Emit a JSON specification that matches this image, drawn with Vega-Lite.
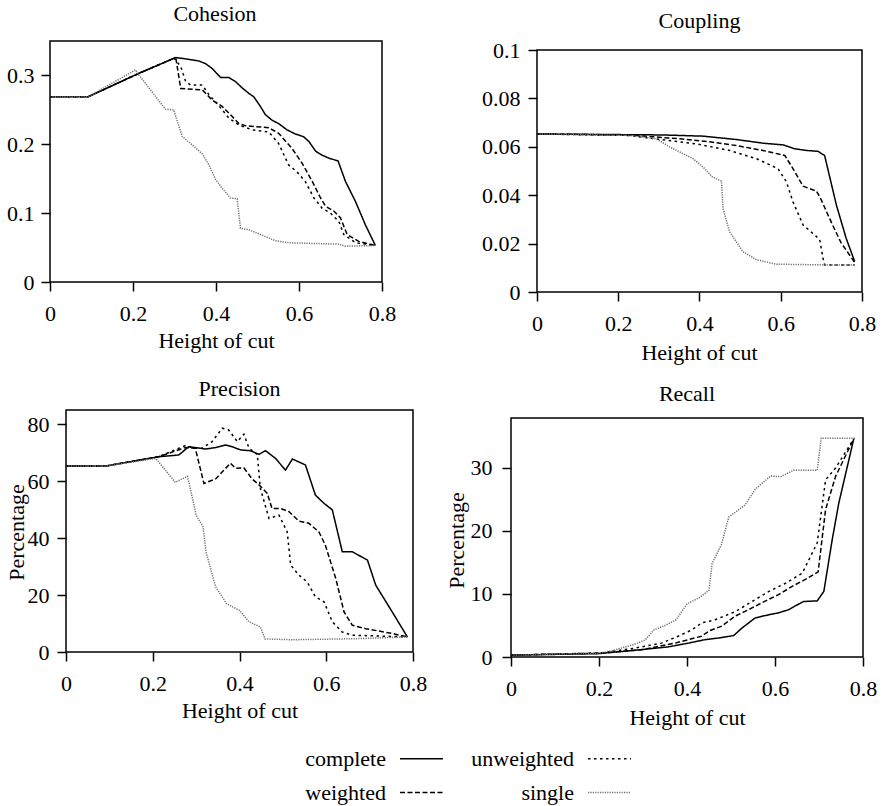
{
  "$schema": "https://vega.github.io/schema/vega-lite/v6.json",
  "padding": {"left": 5, "top": 3, "right": 5, "bottom": 2},
  "background": "white",
  "config": {
    "font": "Liberation Serif",
    "view": {"stroke": null},
    "title": {"font": "Liberation Serif", "fontSize": 22, "fontWeight": "normal", "color": "#000", "baseline": "alphabetic", "frame": "group"},
    "axis": {"labelFont": "Liberation Serif", "labelFontSize": 22, "labelColor": "#000", "titleFont": "Liberation Serif", "titleFontSize": 22, "titleFontWeight": "normal", "titleColor": "#000", "domain": false, "grid": false, "tickColor": "#000", "tickWidth": 1.5, "tickSize": 9, "labelFlush": false, "labelOverlap": false, "labelBound": false, "titleBaseline": "alphabetic"}
  },
  "datasets": {
    "cohesion": [
      {"m":"complete","h":0,"v":0.269},{"m":"complete","h":0.092,"v":0.269},{"m":"complete","h":0.214,"v":0.303},{"m":"complete","h":0.303,"v":0.326},{"m":"complete","h":0.327,"v":0.324},{"m":"complete","h":0.359,"v":0.321},{"m":"complete","h":0.375,"v":0.317},{"m":"complete","h":0.391,"v":0.31},{"m":"complete","h":0.411,"v":0.297},{"m":"complete","h":0.431,"v":0.297},{"m":"complete","h":0.447,"v":0.291},{"m":"complete","h":0.463,"v":0.282},{"m":"complete","h":0.479,"v":0.274},{"m":"complete","h":0.491,"v":0.269},{"m":"complete","h":0.507,"v":0.255},{"m":"complete","h":0.519,"v":0.243},{"m":"complete","h":0.535,"v":0.235},{"m":"complete","h":0.551,"v":0.23},{"m":"complete","h":0.571,"v":0.221},{"m":"complete","h":0.591,"v":0.215},{"m":"complete","h":0.611,"v":0.211},{"m":"complete","h":0.624,"v":0.204},{"m":"complete","h":0.64,"v":0.19},{"m":"complete","h":0.656,"v":0.184},{"m":"complete","h":0.676,"v":0.179},{"m":"complete","h":0.694,"v":0.176},{"m":"complete","h":0.712,"v":0.146},{"m":"complete","h":0.736,"v":0.117},{"m":"complete","h":0.76,"v":0.083},{"m":"complete","h":0.784,"v":0.053},
      {"m":"weighted","h":0,"v":0.269},{"m":"weighted","h":0.092,"v":0.269},{"m":"weighted","h":0.214,"v":0.303},{"m":"weighted","h":0.303,"v":0.326},{"m":"weighted","h":0.315,"v":0.281},{"m":"weighted","h":0.367,"v":0.279},{"m":"weighted","h":0.391,"v":0.264},{"m":"weighted","h":0.415,"v":0.255},{"m":"weighted","h":0.435,"v":0.243},{"m":"weighted","h":0.455,"v":0.23},{"m":"weighted","h":0.471,"v":0.227},{"m":"weighted","h":0.527,"v":0.224},{"m":"weighted","h":0.551,"v":0.216},{"m":"weighted","h":0.583,"v":0.194},{"m":"weighted","h":0.607,"v":0.173},{"m":"weighted","h":0.632,"v":0.146},{"m":"weighted","h":0.652,"v":0.122},{"m":"weighted","h":0.664,"v":0.11},{"m":"weighted","h":0.684,"v":0.103},{"m":"weighted","h":0.7,"v":0.093},{"m":"weighted","h":0.716,"v":0.069},{"m":"weighted","h":0.744,"v":0.059},{"m":"weighted","h":0.784,"v":0.053},
      {"m":"unweighted","h":0,"v":0.269},{"m":"unweighted","h":0.092,"v":0.269},{"m":"unweighted","h":0.214,"v":0.303},{"m":"unweighted","h":0.299,"v":0.325},{"m":"unweighted","h":0.315,"v":0.313},{"m":"unweighted","h":0.327,"v":0.291},{"m":"unweighted","h":0.339,"v":0.286},{"m":"unweighted","h":0.367,"v":0.286},{"m":"unweighted","h":0.383,"v":0.272},{"m":"unweighted","h":0.407,"v":0.256},{"m":"unweighted","h":0.431,"v":0.238},{"m":"unweighted","h":0.455,"v":0.228},{"m":"unweighted","h":0.487,"v":0.221},{"m":"unweighted","h":0.527,"v":0.218},{"m":"unweighted","h":0.551,"v":0.201},{"m":"unweighted","h":0.575,"v":0.17},{"m":"unweighted","h":0.595,"v":0.16},{"m":"unweighted","h":0.615,"v":0.146},{"m":"unweighted","h":0.636,"v":0.122},{"m":"unweighted","h":0.656,"v":0.107},{"m":"unweighted","h":0.676,"v":0.1},{"m":"unweighted","h":0.696,"v":0.088},{"m":"unweighted","h":0.708,"v":0.069},{"m":"unweighted","h":0.736,"v":0.057},{"m":"unweighted","h":0.784,"v":0.053},
      {"m":"single","h":0,"v":0.269},{"m":"single","h":0.092,"v":0.269},{"m":"single","h":0.206,"v":0.308},{"m":"single","h":0.214,"v":0.301},{"m":"single","h":0.246,"v":0.276},{"m":"single","h":0.278,"v":0.251},{"m":"single","h":0.298,"v":0.25},{"m":"single","h":0.307,"v":0.233},{"m":"single","h":0.319,"v":0.211},{"m":"single","h":0.343,"v":0.199},{"m":"single","h":0.367,"v":0.186},{"m":"single","h":0.383,"v":0.17},{"m":"single","h":0.399,"v":0.149},{"m":"single","h":0.415,"v":0.136},{"m":"single","h":0.435,"v":0.122},{"m":"single","h":0.451,"v":0.121},{"m":"single","h":0.459,"v":0.078},{"m":"single","h":0.479,"v":0.076},{"m":"single","h":0.503,"v":0.07},{"m":"single","h":0.543,"v":0.06},{"m":"single","h":0.575,"v":0.057},{"m":"single","h":0.695,"v":0.055},{"m":"single","h":0.711,"v":0.052},{"m":"single","h":0.784,"v":0.053}
    ],
    "coupling": [
      {"m":"complete","h":0,"v":0.0653},{"m":"complete","h":0.31,"v":0.0649},{"m":"complete","h":0.409,"v":0.0644},{"m":"complete","h":0.491,"v":0.063},{"m":"complete","h":0.556,"v":0.0615},{"m":"complete","h":0.606,"v":0.0608},{"m":"complete","h":0.634,"v":0.0592},{"m":"complete","h":0.663,"v":0.0585},{"m":"complete","h":0.692,"v":0.0581},{"m":"complete","h":0.708,"v":0.0564},{"m":"complete","h":0.737,"v":0.0359},{"m":"complete","h":0.761,"v":0.0222},{"m":"complete","h":0.782,"v":0.0126},
      {"m":"weighted","h":0,"v":0.0653},{"m":"weighted","h":0.228,"v":0.0649},{"m":"weighted","h":0.351,"v":0.0633},{"m":"weighted","h":0.433,"v":0.0619},{"m":"weighted","h":0.491,"v":0.0605},{"m":"weighted","h":0.556,"v":0.0585},{"m":"weighted","h":0.61,"v":0.0564},{"m":"weighted","h":0.63,"v":0.051},{"m":"weighted","h":0.655,"v":0.0437},{"m":"weighted","h":0.688,"v":0.0417},{"m":"weighted","h":0.7,"v":0.038},{"m":"weighted","h":0.72,"v":0.0304},{"m":"weighted","h":0.748,"v":0.0205},{"m":"weighted","h":0.782,"v":0.0122},
      {"m":"unweighted","h":0,"v":0.0653},{"m":"unweighted","h":0.228,"v":0.0647},{"m":"unweighted","h":0.31,"v":0.0629},{"m":"unweighted","h":0.392,"v":0.0612},{"m":"unweighted","h":0.474,"v":0.0585},{"m":"unweighted","h":0.54,"v":0.0551},{"m":"unweighted","h":0.593,"v":0.051},{"m":"unweighted","h":0.614,"v":0.0455},{"m":"unweighted","h":0.63,"v":0.0373},{"m":"unweighted","h":0.655,"v":0.0277},{"m":"unweighted","h":0.688,"v":0.0229},{"m":"unweighted","h":0.696,"v":0.0215},{"m":"unweighted","h":0.704,"v":0.014},{"m":"unweighted","h":0.708,"v":0.0112},{"m":"unweighted","h":0.782,"v":0.0112},
      {"m":"single","h":0,"v":0.0653},{"m":"single","h":0.228,"v":0.0647},{"m":"single","h":0.294,"v":0.0633},{"m":"single","h":0.327,"v":0.0599},{"m":"single","h":0.384,"v":0.0551},{"m":"single","h":0.409,"v":0.0516},{"m":"single","h":0.432,"v":0.0475},{"m":"single","h":0.454,"v":0.0458},{"m":"single","h":0.458,"v":0.0345},{"m":"single","h":0.474,"v":0.0249},{"m":"single","h":0.507,"v":0.0167},{"m":"single","h":0.54,"v":0.0133},{"m":"single","h":0.589,"v":0.0115},{"m":"single","h":0.704,"v":0.0112},{"m":"single","h":0.782,"v":0.0112}
    ],
    "precision": [
      {"m":"complete","h":0,"v":65.3},{"m":"complete","h":0.091,"v":65.3},{"m":"complete","h":0.214,"v":68.6},{"m":"complete","h":0.26,"v":69.2},{"m":"complete","h":0.283,"v":72.1},{"m":"complete","h":0.298,"v":71.8},{"m":"complete","h":0.322,"v":71.3},{"m":"complete","h":0.345,"v":71.8},{"m":"complete","h":0.368,"v":72.7},{"m":"complete","h":0.383,"v":72.1},{"m":"complete","h":0.402,"v":71},{"m":"complete","h":0.425,"v":70.7},{"m":"complete","h":0.445,"v":69.4},{"m":"complete","h":0.46,"v":70.7},{"m":"complete","h":0.483,"v":68},{"m":"complete","h":0.506,"v":63.9},{"m":"complete","h":0.522,"v":67.8},{"m":"complete","h":0.552,"v":65.7},{"m":"complete","h":0.575,"v":55.1},{"m":"complete","h":0.595,"v":52.2},{"m":"complete","h":0.614,"v":49.9},{"m":"complete","h":0.637,"v":35.2},{"m":"complete","h":0.66,"v":35.2},{"m":"complete","h":0.695,"v":32.3},{"m":"complete","h":0.714,"v":23.5},{"m":"complete","h":0.752,"v":14.1},{"m":"complete","h":0.787,"v":5.3},
      {"m":"weighted","h":0,"v":65.3},{"m":"weighted","h":0.091,"v":65.3},{"m":"weighted","h":0.214,"v":68.6},{"m":"weighted","h":0.275,"v":71.8},{"m":"weighted","h":0.298,"v":71.6},{"m":"weighted","h":0.318,"v":59.2},{"m":"weighted","h":0.345,"v":60.8},{"m":"weighted","h":0.379,"v":66.3},{"m":"weighted","h":0.391,"v":64.5},{"m":"weighted","h":0.41,"v":64.7},{"m":"weighted","h":0.429,"v":60.8},{"m":"weighted","h":0.445,"v":58.7},{"m":"weighted","h":0.464,"v":55.7},{"m":"weighted","h":0.475,"v":50.4},{"m":"weighted","h":0.495,"v":50.4},{"m":"weighted","h":0.514,"v":49.3},{"m":"weighted","h":0.537,"v":46},{"m":"weighted","h":0.56,"v":45.2},{"m":"weighted","h":0.583,"v":42.2},{"m":"weighted","h":0.598,"v":37.5},{"m":"weighted","h":0.622,"v":25.8},{"m":"weighted","h":0.641,"v":14.1},{"m":"weighted","h":0.66,"v":9.4},{"m":"weighted","h":0.691,"v":8.2},{"m":"weighted","h":0.752,"v":6.5},{"m":"weighted","h":0.787,"v":5.3},
      {"m":"unweighted","h":0,"v":65.3},{"m":"unweighted","h":0.091,"v":65.3},{"m":"unweighted","h":0.214,"v":68.6},{"m":"unweighted","h":0.275,"v":72.5},{"m":"unweighted","h":0.298,"v":71.6},{"m":"unweighted","h":0.314,"v":71.6},{"m":"unweighted","h":0.337,"v":73.9},{"m":"unweighted","h":0.36,"v":78.6},{"m":"unweighted","h":0.375,"v":78},{"m":"unweighted","h":0.395,"v":73.9},{"m":"unweighted","h":0.41,"v":76.5},{"m":"unweighted","h":0.422,"v":71.6},{"m":"unweighted","h":0.441,"v":69.4},{"m":"unweighted","h":0.448,"v":57.5},{"m":"unweighted","h":0.468,"v":46.9},{"m":"unweighted","h":0.491,"v":48.1},{"m":"unweighted","h":0.51,"v":42.2},{"m":"unweighted","h":0.518,"v":30.5},{"m":"unweighted","h":0.537,"v":27},{"m":"unweighted","h":0.556,"v":24.6},{"m":"unweighted","h":0.575,"v":19.4},{"m":"unweighted","h":0.595,"v":17.6},{"m":"unweighted","h":0.614,"v":10.6},{"m":"unweighted","h":0.637,"v":7},{"m":"unweighted","h":0.66,"v":5.9},{"m":"unweighted","h":0.787,"v":5.3},
      {"m":"single","h":0,"v":65.3},{"m":"single","h":0.091,"v":65.3},{"m":"single","h":0.207,"v":68},{"m":"single","h":0.252,"v":59.6},{"m":"single","h":0.28,"v":61.7},{"m":"single","h":0.293,"v":53},{"m":"single","h":0.3,"v":48.1},{"m":"single","h":0.316,"v":44},{"m":"single","h":0.323,"v":35},{"m":"single","h":0.345,"v":22.9},{"m":"single","h":0.37,"v":17},{"m":"single","h":0.4,"v":14.6},{"m":"single","h":0.422,"v":10.6},{"m":"single","h":0.448,"v":8.8},{"m":"single","h":0.459,"v":4.6},{"m":"single","h":0.522,"v":4.3},{"m":"single","h":0.675,"v":4.7},{"m":"single","h":0.787,"v":5.3}
    ],
    "recall": [
      {"m":"complete","h":0,"v":0.3},{"m":"complete","h":0.198,"v":0.53},{"m":"complete","h":0.281,"v":1.06},{"m":"complete","h":0.357,"v":1.6},{"m":"complete","h":0.403,"v":2.2},{"m":"complete","h":0.441,"v":2.75},{"m":"complete","h":0.471,"v":3.0},{"m":"complete","h":0.506,"v":3.4},{"m":"complete","h":0.525,"v":4.6},{"m":"complete","h":0.555,"v":6.2},{"m":"complete","h":0.586,"v":6.7},{"m":"complete","h":0.608,"v":7.0},{"m":"complete","h":0.631,"v":7.5},{"m":"complete","h":0.646,"v":8.1},{"m":"complete","h":0.665,"v":8.8},{"m":"complete","h":0.696,"v":8.9},{"m":"complete","h":0.711,"v":10.4},{"m":"complete","h":0.73,"v":18.6},{"m":"complete","h":0.745,"v":24.4},{"m":"complete","h":0.779,"v":34.6},
      {"m":"weighted","h":0,"v":0.3},{"m":"weighted","h":0.205,"v":0.63},{"m":"weighted","h":0.297,"v":1.16},{"m":"weighted","h":0.373,"v":2.2},{"m":"weighted","h":0.403,"v":2.75},{"m":"weighted","h":0.433,"v":3.3},{"m":"weighted","h":0.452,"v":4.2},{"m":"weighted","h":0.479,"v":4.9},{"m":"weighted","h":0.51,"v":6.5},{"m":"weighted","h":0.54,"v":7.5},{"m":"weighted","h":0.57,"v":8.6},{"m":"weighted","h":0.608,"v":9.9},{"m":"weighted","h":0.639,"v":11.2},{"m":"weighted","h":0.669,"v":12.3},{"m":"weighted","h":0.698,"v":13.5},{"m":"weighted","h":0.715,"v":23.4},{"m":"weighted","h":0.738,"v":28.7},{"m":"weighted","h":0.779,"v":34.6},
      {"m":"unweighted","h":0,"v":0.3},{"m":"unweighted","h":0.205,"v":0.63},{"m":"unweighted","h":0.281,"v":1.4},{"m":"unweighted","h":0.342,"v":2.2},{"m":"unweighted","h":0.38,"v":3.3},{"m":"unweighted","h":0.411,"v":4.3},{"m":"unweighted","h":0.433,"v":5.4},{"m":"unweighted","h":0.464,"v":5.9},{"m":"unweighted","h":0.51,"v":7.2},{"m":"unweighted","h":0.555,"v":9.1},{"m":"unweighted","h":0.586,"v":10.4},{"m":"unweighted","h":0.624,"v":11.7},{"m":"unweighted","h":0.662,"v":13.3},{"m":"unweighted","h":0.696,"v":18.1},{"m":"unweighted","h":0.715,"v":28.1},{"m":"unweighted","h":0.738,"v":30.0},{"m":"unweighted","h":0.779,"v":34.6},
      {"m":"single","h":0,"v":0.3},{"m":"single","h":0.2,"v":0.6},{"m":"single","h":0.23,"v":1.0},{"m":"single","h":0.28,"v":2.0},{"m":"single","h":0.305,"v":2.7},{"m":"single","h":0.325,"v":4.3},{"m":"single","h":0.35,"v":5.0},{"m":"single","h":0.375,"v":5.9},{"m":"single","h":0.4,"v":8.4},{"m":"single","h":0.43,"v":9.5},{"m":"single","h":0.45,"v":10.6},{"m":"single","h":0.457,"v":14.8},{"m":"single","h":0.478,"v":17.8},{"m":"single","h":0.495,"v":22.2},{"m":"single","h":0.532,"v":24.1},{"m":"single","h":0.555,"v":26.6},{"m":"single","h":0.59,"v":28.7},{"m":"single","h":0.613,"v":28.6},{"m":"single","h":0.642,"v":29.6},{"m":"single","h":0.696,"v":29.6},{"m":"single","h":0.705,"v":34.7},{"m":"single","h":0.782,"v":34.7}
    ]
  },
  "spacing": 14,
  "vconcat": [
    {
      "spacing": 85,
      "hconcat": [
        {
          "width": 332, "height": 241,
          "title": {"text": "Cohesion", "offset": 14, "dx": -1},
          "layer": [
            {
              "data": {"name": "cohesion"},
              "mark": {"type": "line", "strokeWidth": 1.5},
              "encoding": {
                "x": {"field": "h", "type": "quantitative", "scale": {"domain": [0, 0.8], "nice": false, "zero": false}, "axis": {"title": "Height of cut", "values": [0, 0.2, 0.4, 0.6, 0.8], "labelExpr": "'' + datum.value", "labelPadding": 12, "titleX": 166, "titleY": 65}},
                "y": {"field": "v", "type": "quantitative", "scale": {"domain": [0, 0.35], "nice": false, "zero": false}, "axis": {"title": null, "values": [0, 0.1, 0.2, 0.3], "labelExpr": "'' + datum.value", "labelPadding": 7}},
                "strokeDash": {"field": "m", "type": "nominal", "scale": {"domain": ["complete", "unweighted", "weighted", "single"], "range": [[1, 0], [2.5, 3.5], [5, 2.5], [1.2, 1.2]]}, "legend": {"title": null, "orient": "none", "legendX": 349, "legendY": 695, "columns": 2, "direction": "horizontal", "labelAlign": "right", "labelOffset": -58, "symbolType": "stroke", "symbolSize": 1849, "symbolStrokeWidth": 1.5, "columnPadding": 25, "rowPadding": 0, "padding": 0, "labelFont": "Liberation Serif", "labelFontSize": 22, "labelColor": "#000", "labelLimit": 300}},
                "color": {"field": "m", "type": "nominal", "scale": {"domain": ["complete", "unweighted", "weighted", "single"], "range": ["#000000", "#000000", "#000000", "#6e6e6e"]}, "legend": {"title": null, "orient": "none", "legendX": 349, "legendY": 695, "columns": 2, "direction": "horizontal", "labelAlign": "right", "labelOffset": -58, "symbolType": "stroke", "symbolSize": 1849, "symbolStrokeWidth": 1.5, "columnPadding": 25, "rowPadding": 0, "padding": 0, "labelFont": "Liberation Serif", "labelFontSize": 22, "labelColor": "#000", "labelLimit": 300}}
              }
            },
            {
              "data": {"values": [{}]},
              "mark": {"type": "rect", "fill": "transparent", "stroke": "#000", "strokeWidth": 1.5},
              "encoding": {"x": {"datum": 0, "type": "quantitative"}, "x2": {"datum": 0.8}, "y": {"datum": 0, "type": "quantitative"}, "y2": {"datum": 0.35}}
            }
          ]
        },
        {
          "width": 353, "height": 251,
          "title": {"text": "Coupling", "offset": 6.5, "dx": 14},
          "layer": [
            {
              "data": {"name": "coupling"},
              "mark": {"type": "line", "strokeWidth": 1.5},
              "encoding": {
                "x": {"field": "h", "type": "quantitative", "scale": {"domain": [-0.0689, 0.8], "nice": false, "zero": false}, "axis": {"title": "Height of cut", "values": [0, 0.2, 0.4, 0.6, 0.8], "labelExpr": "'' + datum.value", "labelPadding": 12, "titleX": 190, "titleY": 67}},
                "y": {"field": "v", "type": "quantitative", "scale": {"domain": [0, 0.10372], "nice": false, "zero": false}, "axis": {"title": null, "values": [0, 0.02, 0.04, 0.06, 0.08, 0.1], "labelExpr": "'' + datum.value", "labelPadding": 8, "offset": -28}},
                "strokeDash": {"field": "m", "type": "nominal", "scale": {"domain": ["complete", "unweighted", "weighted", "single"], "range": [[1, 0], [2.5, 3.5], [5, 2.5], [1.2, 1.2]]}, "legend": {"title": null, "orient": "none", "legendX": 349, "legendY": 695, "columns": 2, "direction": "horizontal", "labelAlign": "right", "labelOffset": -58, "symbolType": "stroke", "symbolSize": 1849, "symbolStrokeWidth": 1.5, "columnPadding": 25, "rowPadding": 0, "padding": 0, "labelFont": "Liberation Serif", "labelFontSize": 22, "labelColor": "#000", "labelLimit": 300}},
                "color": {"field": "m", "type": "nominal", "scale": {"domain": ["complete", "unweighted", "weighted", "single"], "range": ["#000000", "#000000", "#000000", "#6e6e6e"]}, "legend": {"title": null, "orient": "none", "legendX": 349, "legendY": 695, "columns": 2, "direction": "horizontal", "labelAlign": "right", "labelOffset": -58, "symbolType": "stroke", "symbolSize": 1849, "symbolStrokeWidth": 1.5, "columnPadding": 25, "rowPadding": 0, "padding": 0, "labelFont": "Liberation Serif", "labelFontSize": 22, "labelColor": "#000", "labelLimit": 300}}
              }
            },
            {
              "data": {"values": [{}]},
              "mark": {"type": "rect", "fill": "transparent", "stroke": "#000", "strokeWidth": 1.5},
              "encoding": {"x": {"datum": 0, "type": "quantitative"}, "x2": {"datum": 0.8}, "y": {"datum": 0, "type": "quantitative"}, "y2": {"datum": 0.1}}
            }
          ]
        }
      ]
    },
    {
      "spacing": 18,
      "hconcat": [
        {
          "width": 363, "height": 242,
          "title": {"text": "Precision", "offset": 8.5, "dx": 8},
          "layer": [
            {
              "data": {"name": "precision"},
              "mark": {"type": "line", "strokeWidth": 1.5},
              "encoding": {
                "x": {"field": "h", "type": "quantitative", "scale": {"domain": [-0.0369, 0.8], "nice": false, "zero": false}, "axis": {"title": "Height of cut", "values": [0, 0.2, 0.4, 0.6, 0.8], "labelExpr": "'' + datum.value", "labelPadding": 12, "titleX": 189.5, "titleY": 65}},
                "y": {"field": "v", "type": "quantitative", "scale": {"domain": [0, 85], "nice": false, "zero": false}, "axis": {"title": "Percentage", "values": [0, 20, 40, 60, 80], "labelPadding": 8, "offset": -16, "titleX": -43, "titleY": 122}},
                "strokeDash": {"field": "m", "type": "nominal", "scale": {"domain": ["complete", "unweighted", "weighted", "single"], "range": [[1, 0], [2.5, 3.5], [5, 2.5], [1.2, 1.2]]}, "legend": {"title": null, "orient": "none", "legendX": 349, "legendY": 695, "columns": 2, "direction": "horizontal", "labelAlign": "right", "labelOffset": -58, "symbolType": "stroke", "symbolSize": 1849, "symbolStrokeWidth": 1.5, "columnPadding": 25, "rowPadding": 0, "padding": 0, "labelFont": "Liberation Serif", "labelFontSize": 22, "labelColor": "#000", "labelLimit": 300}},
                "color": {"field": "m", "type": "nominal", "scale": {"domain": ["complete", "unweighted", "weighted", "single"], "range": ["#000000", "#000000", "#000000", "#6e6e6e"]}, "legend": {"title": null, "orient": "none", "legendX": 349, "legendY": 695, "columns": 2, "direction": "horizontal", "labelAlign": "right", "labelOffset": -58, "symbolType": "stroke", "symbolSize": 1849, "symbolStrokeWidth": 1.5, "columnPadding": 25, "rowPadding": 0, "padding": 0, "labelFont": "Liberation Serif", "labelFontSize": 22, "labelColor": "#000", "labelLimit": 300}}
              }
            },
            {
              "data": {"values": [{}]},
              "mark": {"type": "rect", "fill": "transparent", "stroke": "#000", "strokeWidth": 1.5},
              "encoding": {"x": {"datum": 0, "type": "quantitative"}, "x2": {"datum": 0.8}, "y": {"datum": 0, "type": "quantitative"}, "y2": {"datum": 85}}
            }
          ]
        },
        {
          "width": 352, "height": 247,
          "title": {"text": "Recall", "offset": 4.5, "dx": 0},
          "layer": [
            {
              "data": {"name": "recall"},
              "mark": {"type": "line", "strokeWidth": 1.5},
              "encoding": {
                "x": {"field": "h", "type": "quantitative", "scale": {"domain": [0, 0.8], "nice": false, "zero": false}, "axis": {"title": "Height of cut", "values": [0, 0.2, 0.4, 0.6, 0.8], "labelExpr": "'' + datum.value", "labelPadding": 12, "titleX": 176, "titleY": 67}},
                "y": {"field": "v", "type": "quantitative", "scale": {"domain": [0, 39.17], "nice": false, "zero": false}, "axis": {"title": "Percentage", "values": [0, 10, 20, 30], "labelPadding": 10, "titleX": -48, "titleY": 130}},
                "strokeDash": {"field": "m", "type": "nominal", "scale": {"domain": ["complete", "unweighted", "weighted", "single"], "range": [[1, 0], [2.5, 3.5], [5, 2.5], [1.2, 1.2]]}, "legend": {"title": null, "orient": "none", "legendX": 349, "legendY": 695, "columns": 2, "direction": "horizontal", "labelAlign": "right", "labelOffset": -58, "symbolType": "stroke", "symbolSize": 1849, "symbolStrokeWidth": 1.5, "columnPadding": 25, "rowPadding": 0, "padding": 0, "labelFont": "Liberation Serif", "labelFontSize": 22, "labelColor": "#000", "labelLimit": 300}},
                "color": {"field": "m", "type": "nominal", "scale": {"domain": ["complete", "unweighted", "weighted", "single"], "range": ["#000000", "#000000", "#000000", "#6e6e6e"]}, "legend": {"title": null, "orient": "none", "legendX": 349, "legendY": 695, "columns": 2, "direction": "horizontal", "labelAlign": "right", "labelOffset": -58, "symbolType": "stroke", "symbolSize": 1849, "symbolStrokeWidth": 1.5, "columnPadding": 25, "rowPadding": 0, "padding": 0, "labelFont": "Liberation Serif", "labelFontSize": 22, "labelColor": "#000", "labelLimit": 300}}
              }
            },
            {
              "data": {"values": [{}]},
              "mark": {"type": "rect", "fill": "transparent", "stroke": "#000", "strokeWidth": 1.5},
              "encoding": {"x": {"datum": 0, "type": "quantitative"}, "x2": {"datum": 0.8}, "y": {"datum": 0, "type": "quantitative"}, "y2": {"datum": 37.9}}
            }
          ]
        }
      ]
    }
  ]
}
